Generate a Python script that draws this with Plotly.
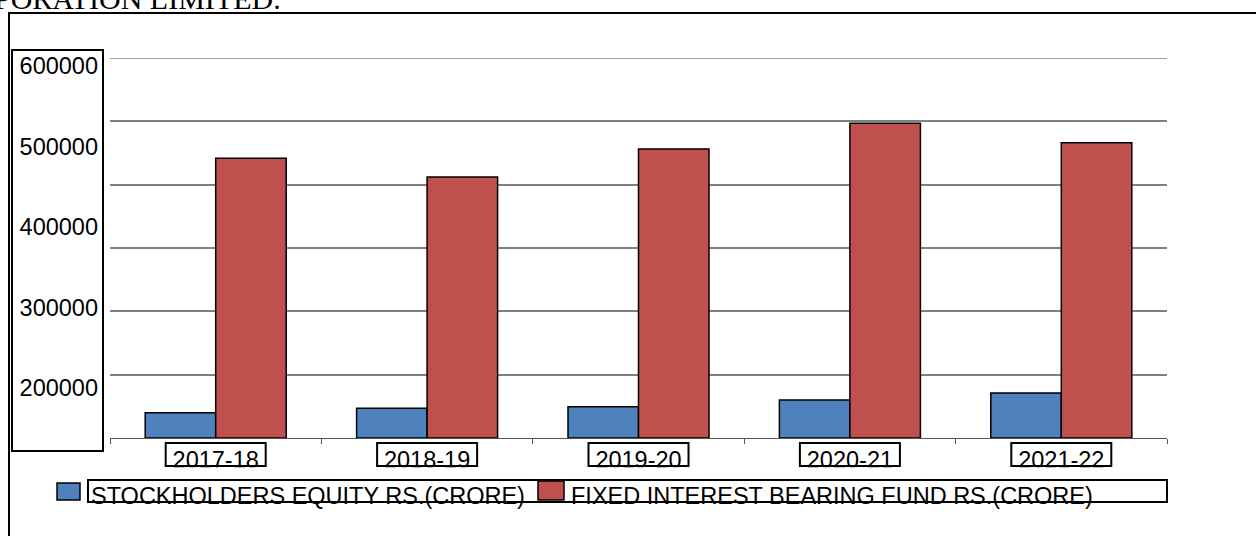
import plotly.graph_objects as go

# Financial years and the two funding series (Rs. crore)
years = ["2017-18", "2018-19", "2019-20", "2020-21", "2021-22"]
equity = [40000, 47000, 49500, 60000, 71000]
fixed_interest_fund = [441700, 412100, 456300, 496900, 466300]

series_names = ["STOCKHOLDERS EQUITY RS.(CRORE)", "FIXED INTEREST BEARING FUND RS.(CRORE)"]
label_ticks = [200000, 300000, 400000, 500000, 600000]
label_text = ["200000", "300000", "400000", "500000", "600000"]
title_text = "PORATION LIMITED."

BLUE = "#4F81BD"
RED = "#C0504D"
FONT = "Liberation Sans, Arial, sans-serif"
FS = 23.5

W, H = 1256, 536
L, R, T, B = 110, 1167, 58, 438


def px(x):
    return (x - L) / (R - L)


def py(y):
    return (B - y) / (B - T)


fig = go.Figure()
fig.add_trace(go.Bar(x=years, y=equity, name=series_names[0], marker=dict(color=BLUE, line=dict(color="black", width=1.5)), showlegend=False))
fig.add_trace(go.Bar(x=years, y=fixed_interest_fund, name=series_names[1], marker=dict(color=RED, line=dict(color="black", width=1.5)), showlegend=False))

# invisible companion trace so the secondary label axis is active
fig.add_trace(go.Scatter(x=years, y=[None] * len(years), yaxis="y2", showlegend=False, hoverinfo="skip"))

# label axis: 80.6 px per 100000, with 600000 centred at y=65.7 px
step_px = 80.6
top_val = 600000 + (65.7 - T) / step_px * 100000
bot_val = 600000 - (B - 65.7) / step_px * 100000

shapes = []
# outer frame (runs off the right and bottom of the page)
shapes.append(dict(type="rect", xref="paper", yref="paper", x0=px(9), x1=px(1400), y0=py(13), y1=py(700),
                   line=dict(color="black", width=2), fillcolor="rgba(0,0,0,0)", layer="below"))
# top gridline, which sits on the edge of the value range
shapes.append(dict(type="line", xref="paper", yref="y", x0=0, x1=1, y0=600000, y1=600000,
                   line=dict(color="#808080", width=1.5), layer="below"))
# box around value labels
shapes.append(dict(type="rect", xref="paper", yref="paper", x0=px(12), x1=px(103), y0=py(50), y1=py(451),
                   line=dict(color="black", width=2), layer="above"))
# white strip that trims the category labels at the bottom of their boxes
shapes.append(dict(type="rect", xref="paper", yref="paper", x0=px(150), x1=px(1130), y0=py(467.2), y1=py(478),
                   line=dict(width=0), fillcolor="white", layer="above"))
# boxes around category labels
half = 50 / ((R - L) / len(years))
for i in range(len(years)):
    shapes.append(dict(type="rect", xref="x", yref="paper", x0=i - half, x1=i + half, y0=py(443), y1=py(466),
                       line=dict(color="black", width=2), layer="above"))
# legend frame and swatches
shapes.append(dict(type="rect", xref="paper", yref="paper", x0=px(88), x1=px(1167), y0=py(480), y1=py(502),
                   line=dict(color="black", width=2), layer="above"))
shapes.append(dict(type="rect", xref="paper", yref="paper", x0=px(57), x1=px(80), y0=py(483), y1=py(500),
                   line=dict(color="black", width=1.5), fillcolor=BLUE, layer="above"))
shapes.append(dict(type="rect", xref="paper", yref="paper", x0=px(538), x1=px(564), y0=py(481), y1=py(500),
                   line=dict(color="black", width=1.5), fillcolor=RED, layer="above"))

annotations = [
    dict(text=title_text, xref="paper", yref="paper", x=px(283), y=py(17), xanchor="right", yanchor="bottom",
         showarrow=False, font=dict(family="Liberation Serif, Times New Roman, serif", size=30, color="black")),
    dict(text=series_names[0], xref="paper", yref="paper", x=px(89), y=py(495.5), xanchor="left", yanchor="middle",
         showarrow=False, font=dict(family=FONT, size=FS, color="black")),
    dict(text=series_names[1], xref="paper", yref="paper", x=px(569), y=py(495.5), xanchor="left", yanchor="middle",
         showarrow=False, font=dict(family=FONT, size=FS, color="black")),
]

fig.update_layout(
    width=W, height=H,
    margin=dict(l=L, r=W - R, t=T, b=H - B, pad=0),
    paper_bgcolor="white", plot_bgcolor="white",
    barmode="group", bargap=0.333, bargroupgap=0,
    font=dict(family=FONT, size=FS, color="black"),
    xaxis=dict(type="category", showgrid=False, showline=True, linecolor="#555555", linewidth=1.2,
               ticks="outside", tickson="boundaries", ticklen=5, tickcolor="#555555",
               tickfont=dict(family=FONT, size=FS), ticklabelstandoff=1),
    yaxis=dict(range=[0, 600000], dtick=100000, showgrid=True, gridcolor="#808080", gridwidth=1.5,
               showticklabels=False, zeroline=False, showline=False),
    yaxis2=dict(overlaying="y", side="left", range=[bot_val, top_val], tickvals=label_ticks, ticktext=label_text,
                showgrid=False, zeroline=False, showline=False, ticks="", ticklabelstandoff=11,
                tickfont=dict(family=FONT, size=FS)),
    shapes=shapes,
    annotations=annotations,
)

fig.write_html("out.html")
